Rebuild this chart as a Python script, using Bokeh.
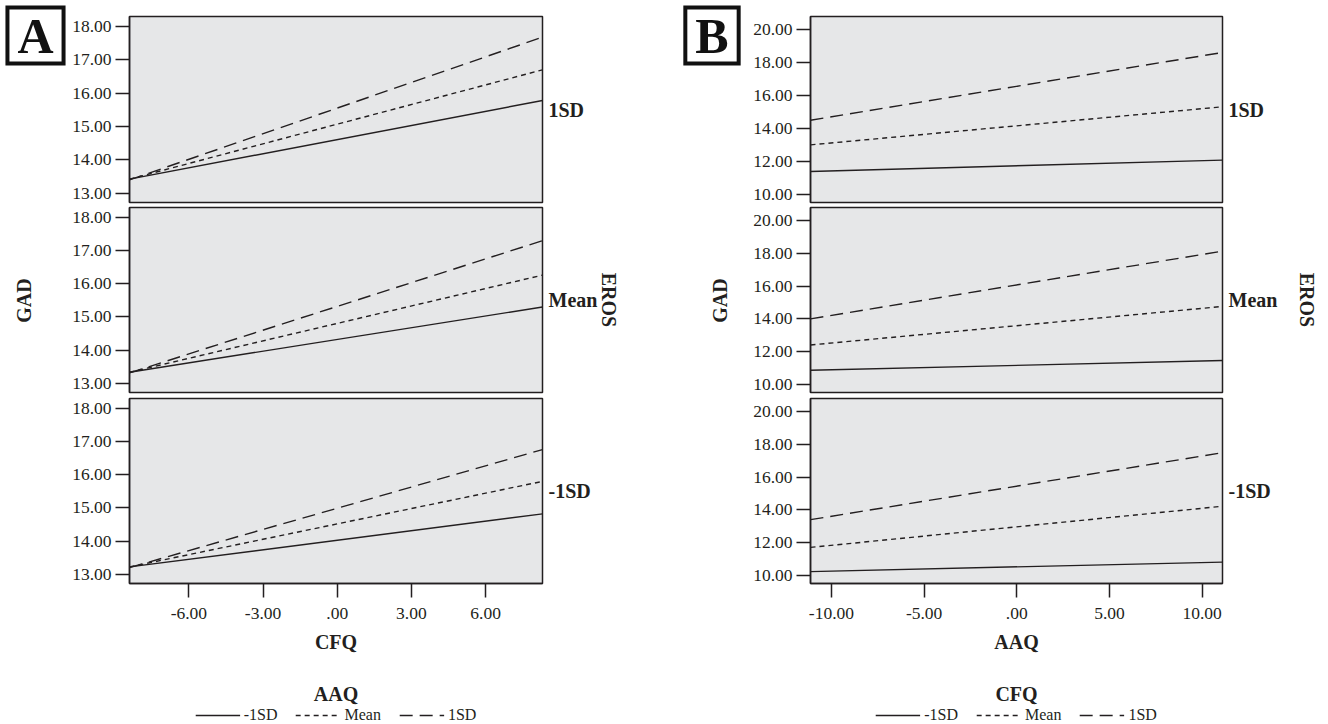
import math
from bokeh.plotting import figure
from bokeh.layouts import row, column
from bokeh.models import (Range1d, FixedTicker, Label, Legend, LegendItem,
                          LinearAxis)
from bokeh.embed import file_html
from bokeh.resources import INLINE

FONT = "Liberation Serif"
INK = "#231f20"
PANEL_FILL = "#e6e7e8"
TOTAL_H = 724

eros_levels = ["1SD", "Mean", "-1SD"]
legend_labels = ["-1SD", "Mean", "1SD"]

# ---------------- Panel A: GAD by CFQ, lines = AAQ, rows = EROS ----------------
a_x = [-8.4, 8.3]
a_xticks = [-6, -3, 0, 3, 6]
a_xtick_labels = ["-6.00", "-3.00", ".00", "3.00", "6.00"]
a_yticks = [13, 14, 15, 16, 17, 18]
a_ytick_labels = ["13.00", "14.00", "15.00", "16.00", "17.00", "18.00"]
a_yrange = [12.72, 18.3]
a_aaq_low = [[13.42, 15.78], [13.33, 15.30], [13.22, 14.82]]
a_aaq_mean = [[13.42, 16.70], [13.33, 16.26], [13.22, 15.80]]
a_aaq_high = [[13.40, 17.68], [13.31, 17.30], [13.20, 16.76]]

# ---------------- Panel B: GAD by AAQ, lines = CFQ, rows = EROS ----------------
b_x = [-11.13, 11.1]
b_xticks = [-10, -5, 0, 5, 10]
b_xtick_labels = ["-10.00", "-5.00", ".00", "5.00", "10.00"]
b_yticks = [10, 12, 14, 16, 18, 20]
b_ytick_labels = ["10.00", "12.00", "14.00", "16.00", "18.00", "20.00"]
b_yrange = [9.49, 20.82]
b_cfq_low = [[11.38, 12.07], [10.85, 11.45], [10.22, 10.80]]
b_cfq_mean = [[13.00, 15.32], [12.40, 14.76], [11.70, 14.22]]
b_cfq_high = [[14.50, 18.63], [14.00, 18.15], [13.40, 17.50]]

DASHES = ["solid", "5 4", "13 7"]


def style_axis(ax):
    ax.major_tick_out = 14
    ax.major_tick_in = 0
    ax.minor_tick_out = 0
    ax.minor_tick_in = 0
    ax.major_tick_line_color = INK
    ax.major_tick_line_width = 1.5
    ax.axis_line_color = INK
    ax.axis_line_width = 1.5
    ax.major_label_text_font = FONT
    ax.major_label_text_font_size = "17.5px"
    ax.major_label_text_color = INK
    ax.axis_label_text_font = FONT
    ax.axis_label_text_font_size = "20px"
    ax.axis_label_text_font_style = "bold"
    ax.axis_label_text_color = INK


def label_axis(text, standoff, orientation):
    return LinearAxis(ticker=FixedTicker(ticks=[]), axis_label=text,
                      axis_label_standoff=standoff,
                      axis_label_orientation=orientation,
                      axis_line_color=None, major_tick_out=0, major_tick_in=0,
                      minor_tick_out=0, minor_tick_in=0, major_label_standoff=0,
                      axis_label_text_font=FONT, axis_label_text_font_size="20px",
                      axis_label_text_font_style="bold", axis_label_text_color=INK)


def make_strip(letter, width, letter_x, gad_x):
    s = figure(width=width, height=TOTAL_H, x_range=Range1d(0, width),
               y_range=Range1d(TOTAL_H, 0), output_backend="svg",
               toolbar_location=None, x_axis_location=None, y_axis_location=None,
               min_border_left=0, min_border_right=0, min_border_top=0,
               min_border_bottom=0, outline_line_color=None,
               background_fill_color=None, border_fill_color="white")
    s.grid.visible = False
    s.add_layout(Label(x=letter_x, y=35, text=letter, text_align="center",
                       text_baseline="middle", text_font=FONT,
                       text_font_style="bold", text_font_size="50px",
                       text_color="#111111", border_line_color="#111111",
                       border_line_width=4, border_line_join="miter",
                       background_fill_color="white",
                       padding=dict(left=10, right=10, top=0, bottom=0)))
    s.add_layout(Label(x=gad_x, y=300, text="GAD", angle=math.pi / 2,
                       text_align="center", text_baseline="middle",
                       text_font=FONT, text_font_style="bold",
                       text_font_size="20px", text_color=INK))
    return s


def make_panel(letter, xs, yr, xticks, xlabels, yticks, ylabels, series,
               xlabel, moderator, strip_w, letter_x, gad_x, main_w, left_b,
               right_b, eros_standoff):
    xr = (xs[0], xs[1])
    frame_h = [186, 185, 185]
    tops = [16, 3, 3]
    bottoms = [2, 3, 84]
    figs = []
    for i in range(3):
        last = i == 2
        p = figure(width=main_w, height=frame_h[i] + tops[i] + bottoms[i],
                   x_range=Range1d(*xr), y_range=Range1d(*yr),
                   output_backend="svg", toolbar_location=None,
                   x_axis_location="below" if last else None,
                   min_border_left=left_b, min_border_right=right_b,
                   min_border_top=tops[i], min_border_bottom=bottoms[i],
                   background_fill_color=PANEL_FILL, border_fill_color="white",
                   outline_line_color=INK, outline_line_width=1.5)
        p.grid.visible = False
        p.yaxis.ticker = FixedTicker(ticks=yticks)
        p.yaxis.major_label_overrides = dict(zip(yticks, ylabels))
        p.yaxis.major_label_standoff = 4
        if last:
            p.xaxis.ticker = FixedTicker(ticks=xticks)
            p.xaxis.major_label_overrides = dict(zip(xticks, xlabels))
            p.xaxis.major_label_standoff = 10
            p.xaxis.axis_label = xlabel
            p.xaxis.axis_label_standoff = 9
        for ax in p.axis:
            style_axis(ax)

        for k, vals in enumerate(series):
            p.line(list(xs), vals[i], line_color=INK, line_width=1.4,
                   line_dash=DASHES[k])

        # strip label for the EROS level (right of the frame)
        p.add_layout(label_axis(eros_levels[i], 6, "horizontal"), "right")
        if i == 1:
            p.add_layout(label_axis("EROS", eros_standoff, "parallel"), "right")
        figs.append(p)

    # legend strip with the moderator name above it
    lp = figure(width=main_w, height=57, x_range=Range1d(0, 1), y_range=Range1d(0, 1),
                output_backend="svg", toolbar_location=None,
                x_axis_location="above", y_axis_location=None,
                min_border_left=left_b, min_border_right=right_b,
                min_border_top=37, min_border_bottom=0,
                outline_line_color=None, background_fill_color=None,
                border_fill_color="white")
    lp.grid.visible = False
    lp.xaxis.ticker = FixedTicker(ticks=[])
    lp.xaxis.axis_label = moderator
    lp.xaxis.axis_label_standoff = 0
    lp.xaxis.axis_line_color = None
    lp.xaxis.major_tick_out = 0
    lp.xaxis.major_tick_in = 0
    lp.xaxis.minor_tick_out = 0
    lp.xaxis.minor_tick_in = 0
    lp.xaxis.major_label_standoff = 0
    lp.xaxis.axis_label_text_font = FONT
    lp.xaxis.axis_label_text_font_size = "20px"
    lp.xaxis.axis_label_text_font_style = "bold"
    lp.xaxis.axis_label_text_color = INK
    items = []
    for k in range(3):
        # the series lines lie outside this strip's ranges; they only feed the legend
        r = lp.line(list(xs), series[k][0], line_color=INK, line_width=1.4,
                    line_dash=DASHES[k])
        items.append(LegendItem(label=legend_labels[k], renderers=[r]))
    legend = Legend(items=items, orientation="horizontal", location="bottom_center",
                    glyph_width=45, glyph_height=16, label_height=16,
                    label_standoff=4, spacing=18, padding=0, margin=0,
                    border_line_color=None, background_fill_alpha=0,
                    label_text_font=FONT, label_text_font_size="16px",
                    label_text_color=INK)
    lp.add_layout(legend)
    figs.append(lp)
    strip = make_strip(letter, strip_w, letter_x, gad_x)
    return row(strip, column(*figs))


panel_a = make_panel("A", a_x, a_yrange, a_xticks, a_xtick_labels, a_yticks,
                     a_ytick_labels, [a_aaq_low, a_aaq_mean, a_aaq_high],
                     "CFQ", "AAQ", 66, 35, 23, 584, 63, 108, -3)
panel_b = make_panel("B", b_x, b_yrange, b_xticks, b_xtick_labels, b_yticks,
                     b_ytick_labels, [b_cfq_low, b_cfq_mean, b_cfq_high],
                     "AAQ", "CFQ", 95, 61.5, 69, 583, 65, 106, 15)

layout = row(panel_a, panel_b)
open("out.html", "w").write(file_html(layout, INLINE))
